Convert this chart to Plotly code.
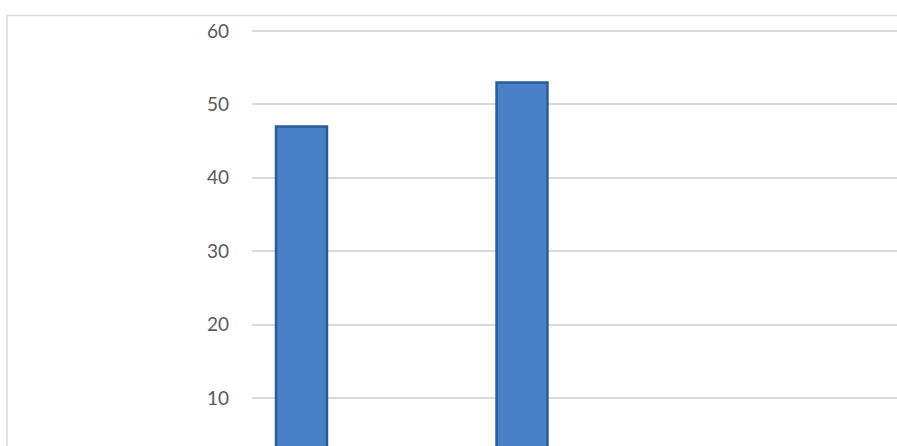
import plotly.graph_objects as go

categories = ["1", "2"]
values = [47, 53]
y_ticks = [10, 20, 30, 40, 50, 60]

W, H = 897, 446
L, T = 252, 30
plot_w = W - L
plot_h = H - T

fig = go.Figure()
fig.add_trace(go.Bar(
    x=categories, y=values, width=0.231,
    marker=dict(color="#4a80c8", line=dict(color="#2c5b98", width=2.5)),
    hoverinfo="y",
))

fig.update_layout(
    width=W, height=H,
    margin=dict(l=L, r=0, t=T, b=0),
    plot_bgcolor="white", paper_bgcolor="white",
    showlegend=False,
    xaxis=dict(type="category", range=[-0.2245, 2.7007], showticklabels=False,
               showgrid=False, zeroline=False, showline=False),
    yaxis=dict(range=[3.46, 60.14], tickvals=y_ticks, showgrid=True,
               gridcolor="#d9d9d9", gridwidth=1.5, zeroline=False, showline=False,
               ticklabelstandoff=22,
               tickfont=dict(family="Lato", size=19, color="#595959")),
    shapes=[dict(type="rect", xref="paper", yref="paper",
                 x0=(7 - L) / plot_w, x1=1.05,
                 y0=-0.05, y1=(H - 15.5) / plot_h,
                 line=dict(color="#d9d9d9", width=1.5), fillcolor="rgba(0,0,0,0)")],
)

fig.write_html("out.html", config={"displayModeBar": False},
               post_script="document.body.style.margin='0';document.body.style.overflow='hidden';")
